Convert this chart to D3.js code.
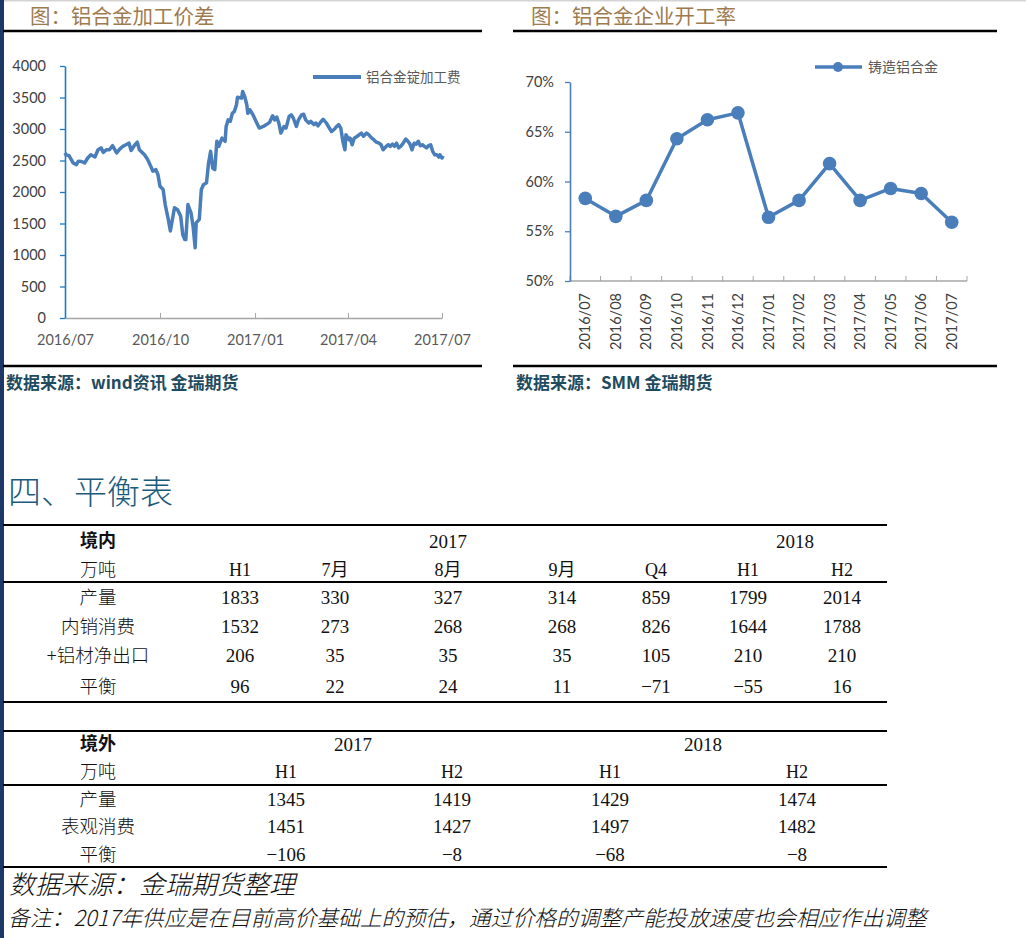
<!DOCTYPE html>
<html>
<head>
<meta charset="utf-8">
<script src="https://cdn.jsdelivr.net/npm/d3@7"></script>
<style>
  body { margin: 0; background: #fff; }
  svg { display: block; }
</style>
</head>
<body>
<svg id="page" width="1026" height="938"></svg>
<script>
// ── data: aluminium alloy ingot processing fee (left chart) ──
const spreadDates = [
  "2016-07-01","2016-07-02","2016-07-05","2016-07-09","2016-07-12","2016-07-14","2016-07-17","2016-07-20",
  "2016-07-23","2016-07-26","2016-07-30","2016-08-02","2016-08-05","2016-08-07","2016-08-10","2016-08-13",
  "2016-08-16","2016-08-20","2016-08-23","2016-08-26","2016-08-29","2016-09-01","2016-09-03","2016-09-06",
  "2016-09-09","2016-09-11","2016-09-16","2016-09-19","2016-09-22","2016-09-24","2016-09-27","2016-09-29",
  "2016-10-01","2016-10-04","2016-10-06","2016-10-09","2016-10-11","2016-10-13","2016-10-15","2016-10-18",
  "2016-10-21","2016-10-23","2016-10-25","2016-10-26","2016-10-28","2016-10-31","2016-11-02","2016-11-04",
  "2016-11-05","2016-11-08","2016-11-10","2016-11-12","2016-11-15","2016-11-17","2016-11-19","2016-11-21",
  "2016-11-23","2016-11-25","2016-11-27","2016-11-28","2016-11-30","2016-12-03","2016-12-04","2016-12-06",
  "2016-12-08","2016-12-10","2016-12-12","2016-12-14","2016-12-15","2016-12-19","2016-12-20","2016-12-22",
  "2016-12-24","2016-12-25","2016-12-27","2016-12-30","2017-01-02","2017-01-05","2017-01-09","2017-01-12",
  "2017-01-15","2017-01-18","2017-01-20","2017-01-22","2017-01-24","2017-01-26","2017-01-29","2017-01-31",
  "2017-02-03","2017-02-05","2017-02-07","2017-02-10","2017-02-12","2017-02-15","2017-02-17","2017-02-19",
  "2017-02-22","2017-02-24","2017-02-27","2017-03-01","2017-03-03","2017-03-06","2017-03-08","2017-03-11",
  "2017-03-13","2017-03-16","2017-03-19","2017-03-21","2017-03-23","2017-03-25","2017-03-27","2017-03-29",
  "2017-03-30","2017-04-02","2017-04-03","2017-04-05","2017-04-07","2017-04-10","2017-04-12","2017-04-14",
  "2017-04-16","2017-04-19","2017-04-21","2017-04-24","2017-04-26","2017-04-28","2017-05-01","2017-05-03",
  "2017-05-05","2017-05-08","2017-05-10","2017-05-12","2017-05-14","2017-05-16","2017-05-18","2017-05-20",
  "2017-05-22","2017-05-24","2017-05-27","2017-05-29","2017-05-31","2017-06-02","2017-06-04","2017-06-06",
  "2017-06-08","2017-06-10","2017-06-12","2017-06-14","2017-06-16","2017-06-18","2017-06-20","2017-06-22",
  "2017-06-24","2017-06-26","2017-06-28","2017-06-29","2017-07-01","2017-07-02"
];
const spreadValues = [
  2620,2590,2575,2460,2435,2490,2485,2460,
  2540,2590,2555,2670,2700,2630,2670,2670,
  2735,2620,2680,2725,2750,2775,2660,2735,
  2790,2670,2590,2515,2410,2330,2355,2275,
  2090,2040,1800,1565,1380,1565,1750,1720,
  1615,1325,1245,1245,1800,1670,1455,1115,
  1510,1565,2040,2115,2145,2460,2645,2380,
  2355,2805,2725,2775,2855,2805,3040,3145,
  3120,3250,3280,3385,3505,3490,3595,3515,
  3385,3250,3305,3225,3120,3015,3040,3070,
  3105,3210,3145,3190,3095,2935,3040,3015,
  3200,3225,3175,3040,3145,3225,3235,3145,
  3095,3120,3070,3095,3050,3120,3155,3095,
  3040,2960,3000,3040,3070,3015,2805,2670,
  2910,2830,2855,2750,2855,2885,2910,2935,
  2885,2935,2910,2855,2830,2795,2775,2750,
  2670,2725,2750,2725,2760,2725,2775,2700,
  2725,2765,2840,2805,2760,2670,2775,2760,
  2805,2735,2750,2725,2700,2735,2750,2645,
  2590,2590,2555,2590,2540,2575
];
const spreadYTicks = [0, 500, 1000, 1500, 2000, 2500, 3000, 3500, 4000];
const spreadXTicks = ["2016-07-01", "2016-10-01", "2017-01-01", "2017-04-01", "2017-07-01"];

// ── data: operating rate of alloy producers (right chart) ──
const rateMonths = ["2016/07","2016/08","2016/09","2016/10","2016/11","2016/12",
  "2017/01","2017/02","2017/03","2017/04","2017/05","2017/06","2017/07"];
const rateValues = [0.583, 0.565, 0.581, 0.643, 0.662, 0.669,
  0.564, 0.581, 0.618, 0.581, 0.593, 0.588, 0.559];
const rateYTicks = [0.50, 0.55, 0.60, 0.65, 0.70];

// ── data: balance tables ──
const domesticYears = ["2017", "2018"];
const domesticYearSpan = [5, 2];
const domesticCols = ["H1", "7月", "8月", "9月", "Q4", "H1", "H2"];
const domesticLabels = ["产量", "内销消费", "+铝材净出口", "平衡"];
const domesticValues = [
  [1833, 330, 327, 314, 859, 1799, 2014],
  [1532, 273, 268, 268, 826, 1644, 1788],
  [206, 35, 35, 35, 105, 210, 210],
  [96, 22, 24, 11, -71, -55, 16]
];
const overseasYears = ["2017", "2018"];
const overseasCols = ["H1", "H2", "H1", "H2"];
const overseasLabels = ["产量", "表观消费", "平衡"];
const overseasValues = [
  [1345, 1419, 1429, 1474],
  [1451, 1427, 1497, 1482],
  [-106, -8, -68, -8]
];

// ──────────────────────────────────────────────────────────────
const svg = d3.select("#page");
const CJK = "'Noto Sans CJK SC', sans-serif";
const LATIN = "Lato, 'Noto Sans CJK SC', sans-serif";
const SERIF = "'Liberation Serif', 'Noto Sans CJK SC', serif";
const BLUE = "#4a7ebb";
const parse = d3.timeParse("%Y-%m-%d");

// page frame: thin grey top edge and navy left bar
svg.append("rect").attr("x", 0).attr("y", 0).attr("width", 1026).attr("height", 1.5).attr("fill", "#d4d4d4");
svg.append("rect").attr("x", 0).attr("y", 0).attr("width", 4).attr("height", 938).attr("fill", "#1d3766");

// panel title, rules and source note
function panelFrame(x0, x1, titleX, title, source) {
  svg.append("text")
    .attr("x", titleX).attr("y", 24)
    .style("font-family", CJK).style("font-size", "20.5px")
    .attr("fill", "#9e7b4f")
    .text(title);
  [31, 366].forEach(y => {
    svg.append("line")
      .attr("x1", x0).attr("x2", x1).attr("y1", y).attr("y2", y)
      .attr("stroke", "#000").attr("stroke-width", 2.5);
  });
  svg.append("text")
    .attr("x", x0 + 3).attr("y", 389)
    .style("font-family", CJK).style("font-size", "17px").style("font-weight", "bold")
    .attr("fill", "#1f4b5e")
    .text(source);
}
panelFrame(3, 482, 30, "图：铝合金加工价差", "数据来源：wind资讯 金瑞期货");
panelFrame(513, 997, 531, "图：铝合金企业开工率", "数据来源：SMM 金瑞期货");

// ── left chart: processing fee line ──
const xS = d3.scaleTime().domain([parse("2016-07-01"), parse("2017-07-01")]).range([65, 442]);
const yS = d3.scaleLinear().domain([0, 4000]).range([318, 66]);

const gx = svg.append("g").attr("transform", "translate(0,318)")
  .call(d3.axisBottom(xS)
    .tickValues(spreadXTicks.map(parse))
    .tickFormat(d3.timeFormat("%Y/%m"))
    .tickSizeInner(-5).tickSizeOuter(0).tickPadding(17));
gx.select(".domain").attr("stroke", "#a6a6a6").attr("stroke-width", 1.3);
gx.selectAll(".tick line").attr("stroke", "#a6a6a6");
gx.selectAll("text").attr("fill", "#595959").style("font-family", LATIN).style("font-size", "14.5px");

const gy = svg.append("g").attr("transform", "translate(65,0)")
  .call(d3.axisLeft(yS).tickValues(spreadYTicks).tickFormat(d3.format("d"))
    .tickSizeInner(5).tickSizeOuter(0).tickPadding(14));
gy.select(".domain").attr("stroke", "#1a7acb").attr("stroke-width", 1.6);
gy.selectAll(".tick line").attr("stroke", "#1a7acb").attr("stroke-width", 1.3);
gy.selectAll("text").attr("fill", "#404040").style("font-family", LATIN).style("font-size", "14.5px");

const spreadData = spreadDates.map((d, i) => ({ date: parse(d), value: spreadValues[i] }));
svg.append("path")
  .datum(spreadData)
  .attr("fill", "none")
  .attr("stroke", BLUE)
  .attr("stroke-width", 3.5)
  .attr("stroke-linejoin", "round")
  .attr("d", d3.line().x(d => xS(d.date)).y(d => yS(d.value)));

// legend
svg.append("line").attr("x1", 313).attr("x2", 361).attr("y1", 77).attr("y2", 77)
  .attr("stroke", BLUE).attr("stroke-width", 4);
svg.append("text").attr("x", 366).attr("y", 77).attr("dy", "0.35em")
  .style("font-family", CJK).style("font-size", "13.5px").attr("fill", "#595959")
  .text("铝合金锭加工费");

// ── right chart: operating rate ──
const xB = d3.scaleBand().domain(rateMonths).range([570, 967]).padding(0);
const yR = d3.scaleLinear().domain([0.5, 0.7]).range([281, 82]);

const gr = svg.append("g").attr("transform", "translate(0,281)");
gr.append("line").attr("x1", xB.range()[0]).attr("x2", xB.range()[1])
  .attr("stroke", "#a6a6a6").attr("stroke-width", 1.3);
gr.selectAll("line.bound")
  .data(rateMonths.map(m => xB(m)).concat([xB.range()[1]]))
  .join("line").attr("class", "bound")
  .attr("x1", d => d).attr("x2", d => d).attr("y1", 0).attr("y2", -5)
  .attr("stroke", "#a6a6a6");
gr.selectAll("text")
  .data(rateMonths)
  .join("text")
  .attr("transform", d => `translate(${xB(d) + xB.bandwidth() / 2},12) rotate(-90)`)
  .attr("dy", "0.35em")
  .attr("text-anchor", "end")
  .attr("fill", "#404040")
  .style("font-family", LATIN).style("font-size", "14.5px")
  .text(d => d);

const gyr = svg.append("g").attr("transform", "translate(570,0)")
  .call(d3.axisLeft(yR).tickValues(rateYTicks).tickFormat(d3.format(".0%"))
    .tickSizeInner(5).tickSizeOuter(0).tickPadding(11));
gyr.select(".domain").attr("stroke", BLUE).attr("stroke-width", 1.6);
gyr.selectAll(".tick line").attr("stroke", BLUE).attr("stroke-width", 1.3);
gyr.selectAll("text").attr("fill", "#404040").style("font-family", LATIN).style("font-size", "14.5px");

const rateData = rateMonths.map((m, i) => ({ month: m, value: rateValues[i] }));
const cx = d => xB(d.month) + xB.bandwidth() / 2;
svg.append("path")
  .datum(rateData)
  .attr("fill", "none").attr("stroke", BLUE).attr("stroke-width", 3.5)
  .attr("stroke-linejoin", "round")
  .attr("d", d3.line().x(cx).y(d => yR(d.value)));
svg.append("g").selectAll("circle")
  .data(rateData)
  .join("circle")
  .attr("cx", cx).attr("cy", d => yR(d.value)).attr("r", 6.8)
  .attr("fill", BLUE);

// legend
svg.append("line").attr("x1", 815).attr("x2", 862).attr("y1", 67).attr("y2", 67)
  .attr("stroke", BLUE).attr("stroke-width", 3.5);
svg.append("circle").attr("cx", 838).attr("cy", 67).attr("r", 5).attr("fill", BLUE);
svg.append("text").attr("x", 868).attr("y", 67).attr("dy", "0.35em")
  .style("font-family", CJK).style("font-size", "14px").attr("fill", "#595959")
  .text("铸造铝合金");

// ── section heading ──
svg.append("text").attr("x", 8).attr("y", 504)
  .style("font-family", CJK).style("font-size", "33px").style("font-weight", 300)
  .attr("fill", "#1b5b7b")
  .text("四、平衡表");

// ── tables ──
const LABEL_X = 98;
const fmt = d3.format("d");

function rule(y) {
  svg.append("line").attr("x1", 3).attr("x2", 887).attr("y1", y).attr("y2", y)
    .attr("stroke", "#000").attr("stroke-width", 2.2);
}
function cell(x, y, txt, opts = {}) {
  svg.append("text").attr("x", x).attr("y", y).attr("dy", "0.36em")
    .attr("text-anchor", "middle")
    .style("font-family", opts.cjk ? CJK : SERIF)
    .style("font-size", opts.size || "19px")
    .style("font-weight", opts.bold ? "bold" : (opts.cjk ? 300 : "normal"))
    .attr("fill", "#111")
    .text(txt);
}
function drawTable(cfg) {
  const colX = d3.scaleOrdinal().domain(d3.range(cfg.cols.length)).range(cfg.colX);
  cfg.rules.forEach(rule);
  cell(LABEL_X, cfg.rowY[0], cfg.title, { cjk: true, bold: true, size: "18px" });
  cell(LABEL_X, cfg.rowY[1], "万吨", { cjk: true, size: "18px" });
  cfg.years.forEach((yr, i) => cell(cfg.yearX[i], cfg.rowY[0], yr));
  cfg.cols.forEach((c, i) => cell(colX(i), cfg.rowY[1], c, { size: "18px" }));
  cfg.labels.forEach((lab, r) => {
    const y = cfg.rowY[r + 2];
    cell(LABEL_X, y, lab, { cjk: true, size: "18.5px" });
    cfg.values[r].forEach((v, i) => cell(colX(i), y, fmt(v)));
  });
}

// domestic table: year captions centred over their column spans
const domColX = [240, 335, 448, 562, 656, 748, 842];
let start = 0;
const domYearX = domesticYearSpan.map(n => {
  const mid = (domColX[start] + domColX[start + n - 1]) / 2;
  start += n;
  return mid;
});
drawTable({
  title: "境内", years: domesticYears, yearX: domYearX,
  cols: domesticCols, colX: domColX, labels: domesticLabels, values: domesticValues,
  rules: [525, 582, 702], rowY: [541, 570, 597, 626, 655, 686]
});
drawTable({
  title: "境外", years: overseasYears, yearX: [353, 703],
  cols: overseasCols, colX: [286, 452, 610, 797], labels: overseasLabels, values: overseasValues,
  rules: [731, 785, 867], rowY: [744, 772, 799, 826, 854]
});

// ── footnotes ──
svg.append("text").attr("x", 9).attr("y", 894)
  .style("font-family", CJK).style("font-size", "26px").style("font-style", "italic").style("font-weight", 300)
  .attr("fill", "#111")
  .text("数据来源：金瑞期货整理");
svg.append("text").attr("x", 8).attr("y", 926)
  .style("font-family", CJK).style("font-size", "21.8px").style("font-style", "italic").style("font-weight", 300)
  .attr("fill", "#111")
  .text("备注：2017年供应是在目前高价基础上的预估，通过价格的调整产能投放速度也会相应作出调整");
</script>
</body>
</html>
